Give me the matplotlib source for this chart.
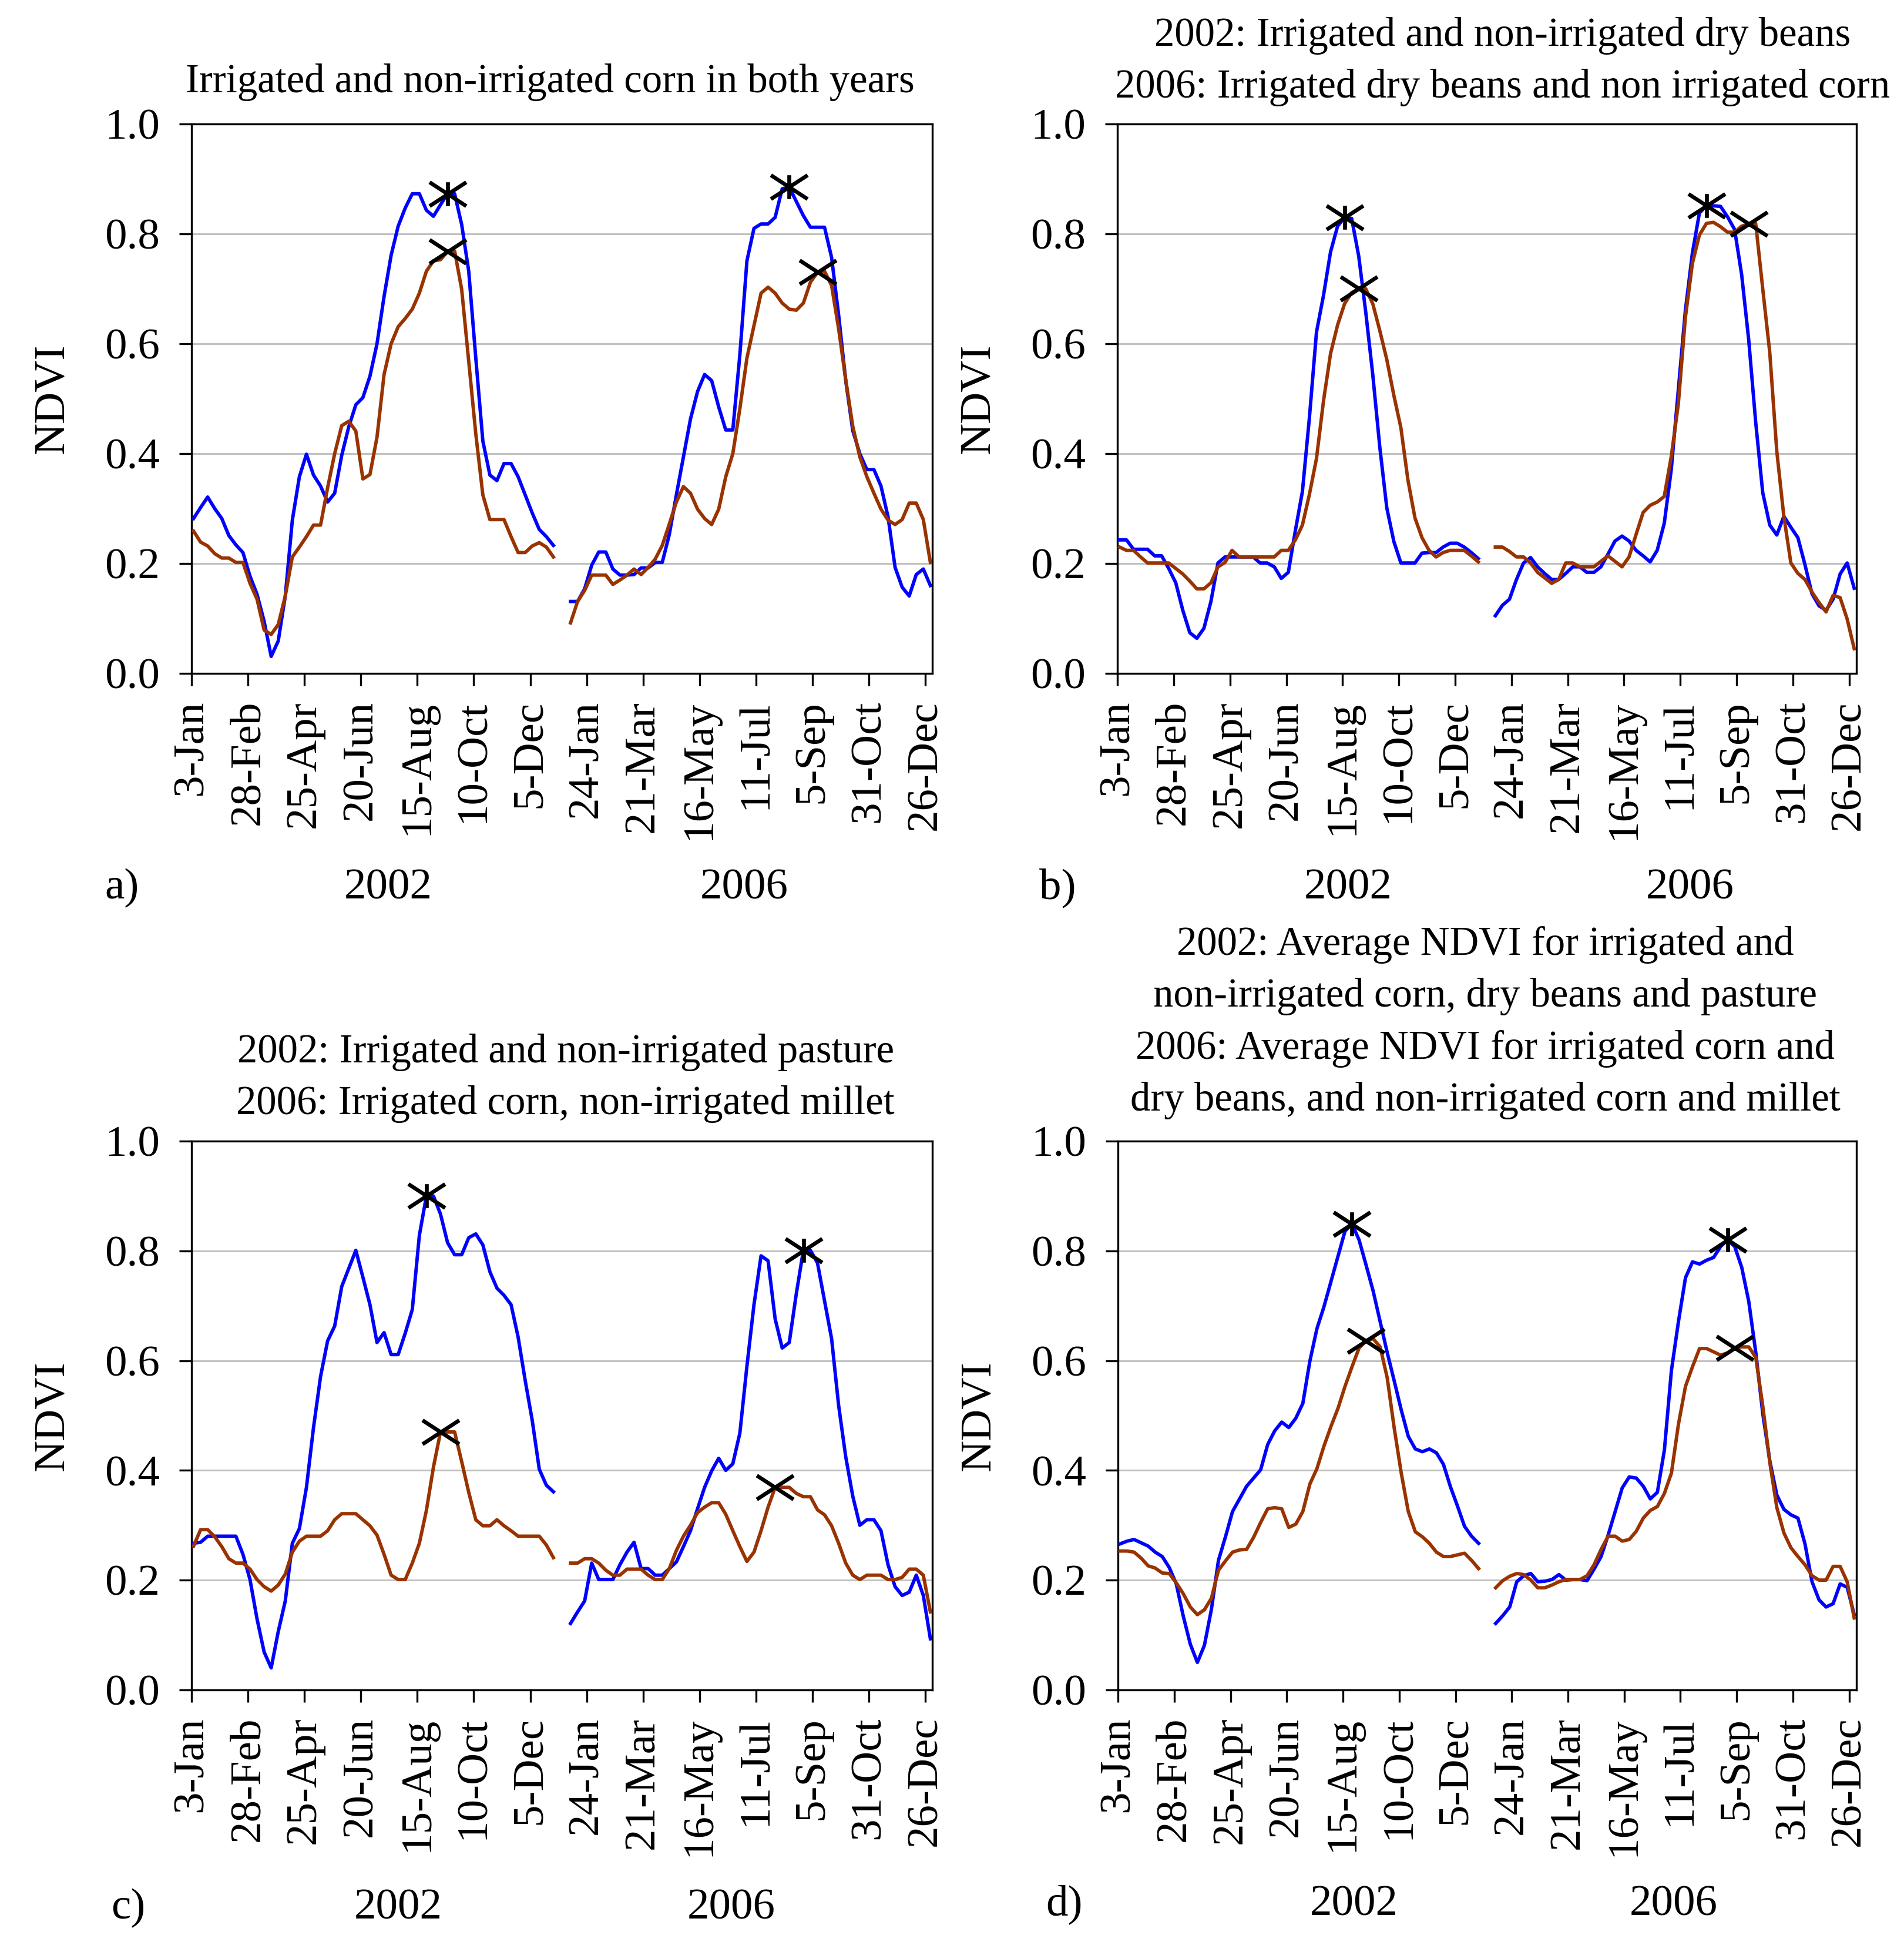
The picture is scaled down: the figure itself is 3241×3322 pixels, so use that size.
import numpy as np
import matplotlib
matplotlib.use("Agg")
import matplotlib.pyplot as plt
from matplotlib.path import Path

plt.rcParams['font.family'] = ['Liberation Serif', 'DejaVu Serif']

BLUE = '#0000ff'
BROWN = '#993300'

tick_labels = ["3-Jan", "28-Feb", "25-Apr", "20-Jun", "15-Aug", "10-Oct", "5-Dec",
               "24-Jan", "21-Mar", "16-May", "11-Jul", "5-Sep", "31-Oct", "26-Dec"]

# weekly composites, 2006 spliced onto the same axis after 2002 (days from 3-Jan-2002)
days_2002 = 2 + 7 * np.arange(52)
days_2006 = 376 + 7 * np.arange(52)

# ---- panel a: irrigated / non-irrigated corn in both years
a_irr_2002 = [0.282, 0.302, 0.321, 0.300, 0.282, 0.251, 0.234, 0.220, 0.177, 0.144, 0.095, 0.031, 0.059,
              0.141, 0.279, 0.358, 0.399, 0.361, 0.341, 0.312, 0.328, 0.397, 0.449, 0.489, 0.502, 0.541,
              0.600, 0.686, 0.761, 0.814, 0.847, 0.873, 0.873, 0.843, 0.832, 0.853, 0.873, 0.873, 0.817,
              0.732, 0.574, 0.423, 0.361, 0.351, 0.382, 0.382, 0.358, 0.325, 0.292, 0.262, 0.249, 0.233]
a_non_2002 = [0.259, 0.239, 0.232, 0.218, 0.210, 0.210, 0.202, 0.202, 0.164, 0.135, 0.079, 0.071, 0.089,
              0.141, 0.212, 0.230, 0.249, 0.270, 0.270, 0.338, 0.400, 0.451, 0.459, 0.441, 0.354, 0.362,
              0.430, 0.544, 0.600, 0.631, 0.646, 0.663, 0.692, 0.732, 0.751, 0.753, 0.768, 0.769, 0.699,
              0.568, 0.436, 0.325, 0.280, 0.280, 0.280, 0.249, 0.220, 0.220, 0.232, 0.238, 0.230, 0.212]
a_irr_2006 = [0.131, 0.131, 0.154, 0.197, 0.221, 0.221, 0.190, 0.179, 0.179, 0.180, 0.192, 0.192, 0.202,
              0.202, 0.253, 0.325, 0.394, 0.463, 0.513, 0.544, 0.533, 0.485, 0.443, 0.443, 0.580, 0.751,
              0.810, 0.818, 0.818, 0.830, 0.882, 0.885, 0.859, 0.833, 0.812, 0.812, 0.812, 0.757, 0.652,
              0.533, 0.442, 0.400, 0.371, 0.371, 0.341, 0.285, 0.193, 0.157, 0.141, 0.180, 0.190, 0.160]
a_non_2006 = [0.092, 0.131, 0.151, 0.179, 0.179, 0.179, 0.162, 0.170, 0.179, 0.190, 0.180, 0.193, 0.208,
              0.233, 0.272, 0.312, 0.340, 0.328, 0.299, 0.282, 0.271, 0.299, 0.358, 0.400, 0.482, 0.574,
              0.633, 0.692, 0.703, 0.692, 0.674, 0.663, 0.661, 0.674, 0.712, 0.730, 0.732, 0.706, 0.627,
              0.535, 0.450, 0.394, 0.358, 0.328, 0.299, 0.279, 0.271, 0.280, 0.310, 0.310, 0.280, 0.202]

# ---- panel b: dry beans (2002), dry beans / non-irrigated corn (2006)
b_irr_2002 = [0.243, 0.243, 0.226, 0.226, 0.226, 0.214, 0.214, 0.191, 0.165, 0.115, 0.074, 0.064, 0.082,
              0.131, 0.201, 0.212, 0.212, 0.212, 0.212, 0.212, 0.201, 0.201, 0.194, 0.173, 0.184, 0.260,
              0.331, 0.466, 0.621, 0.688, 0.767, 0.814, 0.830, 0.828, 0.760, 0.658, 0.544, 0.412, 0.301,
              0.240, 0.201, 0.201, 0.201, 0.219, 0.220, 0.220, 0.230, 0.237, 0.237, 0.230, 0.220, 0.209]
b_non_2002 = [0.230, 0.224, 0.224, 0.212, 0.201, 0.201, 0.201, 0.201, 0.191, 0.181, 0.168, 0.154, 0.154,
              0.165, 0.194, 0.202, 0.224, 0.212, 0.212, 0.212, 0.212, 0.212, 0.212, 0.224, 0.224, 0.243,
              0.270, 0.326, 0.391, 0.496, 0.582, 0.634, 0.673, 0.693, 0.700, 0.700, 0.673, 0.624, 0.571,
              0.506, 0.447, 0.352, 0.283, 0.247, 0.224, 0.212, 0.220, 0.224, 0.224, 0.224, 0.214, 0.203]
b_irr_2006 = [0.105, 0.124, 0.135, 0.171, 0.201, 0.211, 0.194, 0.182, 0.171, 0.171, 0.182, 0.194, 0.194,
              0.184, 0.184, 0.194, 0.217, 0.241, 0.250, 0.241, 0.224, 0.214, 0.203, 0.224, 0.273, 0.371,
              0.516, 0.660, 0.765, 0.838, 0.851, 0.851, 0.850, 0.831, 0.808, 0.726, 0.608, 0.457, 0.329,
              0.270, 0.252, 0.286, 0.266, 0.247, 0.198, 0.145, 0.123, 0.115, 0.135, 0.181, 0.201, 0.155]
b_non_2006 = [0.230, 0.230, 0.222, 0.212, 0.212, 0.201, 0.184, 0.174, 0.164, 0.171, 0.201, 0.201, 0.194,
              0.194, 0.194, 0.204, 0.214, 0.204, 0.194, 0.212, 0.253, 0.293, 0.306, 0.312, 0.322, 0.395,
              0.490, 0.647, 0.746, 0.798, 0.819, 0.821, 0.813, 0.803, 0.803, 0.814, 0.818, 0.819, 0.700,
              0.584, 0.404, 0.286, 0.201, 0.182, 0.171, 0.148, 0.129, 0.112, 0.142, 0.138, 0.099, 0.045]

# ---- panel c: pasture (2002), irrigated corn / non-irrigated millet (2006)
c_irr_2002 = [0.267, 0.269, 0.280, 0.280, 0.280, 0.280, 0.280, 0.247, 0.201, 0.129, 0.069, 0.040, 0.106,
              0.162, 0.267, 0.294, 0.369, 0.478, 0.571, 0.636, 0.663, 0.735, 0.768, 0.801, 0.752, 0.702,
              0.633, 0.651, 0.611, 0.611, 0.650, 0.693, 0.828, 0.900, 0.900, 0.867, 0.815, 0.793, 0.793,
              0.824, 0.831, 0.811, 0.762, 0.732, 0.719, 0.702, 0.643, 0.564, 0.491, 0.402, 0.373, 0.361]
c_non_2002 = [0.262, 0.292, 0.292, 0.279, 0.261, 0.239, 0.231, 0.231, 0.220, 0.201, 0.188, 0.180, 0.191,
              0.211, 0.251, 0.271, 0.280, 0.280, 0.280, 0.290, 0.310, 0.321, 0.321, 0.321, 0.310, 0.299,
              0.282, 0.247, 0.209, 0.201, 0.201, 0.231, 0.267, 0.327, 0.406, 0.470, 0.470, 0.470, 0.416,
              0.360, 0.310, 0.299, 0.299, 0.310, 0.299, 0.290, 0.280, 0.280, 0.280, 0.280, 0.264, 0.241]
c_irr_2006 = [0.121, 0.142, 0.162, 0.231, 0.201, 0.201, 0.201, 0.228, 0.251, 0.269, 0.221, 0.221, 0.209,
              0.209, 0.221, 0.233, 0.261, 0.290, 0.330, 0.369, 0.399, 0.422, 0.400, 0.412, 0.468, 0.590,
              0.702, 0.791, 0.782, 0.676, 0.623, 0.633, 0.722, 0.801, 0.801, 0.778, 0.709, 0.640, 0.518,
              0.425, 0.353, 0.300, 0.310, 0.310, 0.290, 0.228, 0.188, 0.172, 0.178, 0.209, 0.172, 0.093]
c_non_2006 = [0.231, 0.231, 0.239, 0.239, 0.231, 0.218, 0.209, 0.209, 0.220, 0.220, 0.220, 0.209, 0.201,
              0.201, 0.221, 0.254, 0.280, 0.300, 0.323, 0.333, 0.341, 0.341, 0.320, 0.290, 0.261, 0.234,
              0.251, 0.290, 0.333, 0.369, 0.369, 0.369, 0.358, 0.352, 0.352, 0.328, 0.319, 0.299, 0.267,
              0.231, 0.209, 0.201, 0.209, 0.209, 0.209, 0.201, 0.201, 0.205, 0.220, 0.220, 0.209, 0.142]

# ---- panel d: averages
d_irr_2002 = [0.266, 0.271, 0.274, 0.268, 0.262, 0.251, 0.243, 0.223, 0.193, 0.134, 0.083, 0.050, 0.081,
              0.147, 0.236, 0.279, 0.325, 0.348, 0.371, 0.386, 0.401, 0.447, 0.472, 0.488, 0.478, 0.495,
              0.522, 0.599, 0.658, 0.698, 0.744, 0.790, 0.836, 0.849, 0.820, 0.774, 0.727, 0.671, 0.615,
              0.563, 0.510, 0.462, 0.439, 0.434, 0.439, 0.432, 0.411, 0.370, 0.335, 0.298, 0.280, 0.267]
d_non_2002 = [0.253, 0.253, 0.251, 0.240, 0.226, 0.222, 0.213, 0.212, 0.195, 0.175, 0.151, 0.137, 0.146,
              0.167, 0.218, 0.235, 0.251, 0.255, 0.256, 0.278, 0.305, 0.330, 0.332, 0.330, 0.296, 0.302,
              0.325, 0.375, 0.403, 0.444, 0.480, 0.513, 0.553, 0.589, 0.623, 0.636, 0.640, 0.625, 0.569,
              0.477, 0.395, 0.325, 0.288, 0.279, 0.267, 0.251, 0.243, 0.243, 0.246, 0.249, 0.236, 0.221]
d_irr_2006 = [0.121, 0.135, 0.151, 0.197, 0.208, 0.212, 0.197, 0.198, 0.201, 0.210, 0.200, 0.201, 0.201,
              0.199, 0.220, 0.243, 0.282, 0.325, 0.368, 0.388, 0.386, 0.371, 0.348, 0.360, 0.437, 0.582,
              0.671, 0.751, 0.780, 0.776, 0.783, 0.788, 0.808, 0.820, 0.808, 0.770, 0.708, 0.615, 0.503,
              0.417, 0.355, 0.329, 0.319, 0.313, 0.266, 0.197, 0.164, 0.151, 0.157, 0.193, 0.187, 0.137]
d_non_2006 = [0.186, 0.199, 0.207, 0.212, 0.210, 0.200, 0.186, 0.186, 0.191, 0.197, 0.201, 0.201, 0.201,
              0.208, 0.228, 0.256, 0.280, 0.280, 0.271, 0.274, 0.289, 0.313, 0.327, 0.334, 0.358, 0.395,
              0.484, 0.553, 0.589, 0.622, 0.622, 0.616, 0.610, 0.614, 0.623, 0.625, 0.625, 0.606, 0.517,
              0.414, 0.332, 0.286, 0.259, 0.243, 0.228, 0.208, 0.200, 0.200, 0.225, 0.225, 0.197, 0.131]

# index of the marked peak in each series: (irr 2002, non 2002, irr 2006, non 2006)
peaks = {
    "a": (36, 36, 31, 35),
    "b": (32, 34, 30, 36),
    "c": (33, 35, 33, 29),
    "d": (33, 35, 33, 34),
}

titles = {
    "a": "Irrigated and non-irrigated corn in both years",
    "b": "2002: Irrigated and non-irrigated dry beans\n2006: Irrigated dry beans and non irrigated corn",
    "c": "2002: Irrigated and non-irrigated pasture\n2006: Irrigated corn, non-irrigated millet",
    "d": "2002: Average NDVI for irrigated and\nnon-irrigated corn, dry beans and pasture\n"
         "2006: Average NDVI for irrigated corn and\ndry beans, and non-irrigated corn and millet",
}

series = {
    "a": (a_irr_2002, a_non_2002, a_irr_2006, a_non_2006),
    "b": (b_irr_2002, b_non_2002, b_irr_2006, b_non_2006),
    "c": (c_irr_2002, c_non_2002, c_irr_2006, c_non_2006),
    "d": (d_irr_2002, d_non_2002, d_irr_2006, d_non_2006),
}

# marker shapes: a wide X, and the same X with a vertical bar
M, L = Path.MOVETO, Path.LINETO
cross = Path([(-1, -0.65), (1, 0.65), (-1, 0.65), (1, -0.65)], [M, L, M, L])
star = Path([(-1, -0.65), (1, 0.65), (-1, 0.65), (1, -0.65), (0, -0.65), (0, 0.65)],
            [M, L, M, L, M, L])

fig = plt.figure(figsize=(3241 / 300, 3322 / 300), dpi=300)

axes_pos = {
    "a": [0.1006, 0.655, 0.3891, 0.2815],
    "b": [0.5869, 0.655, 0.3880, 0.2815],
    "c": [0.1006, 0.1343, 0.3891, 0.2811],
    "d": [0.5872, 0.1343, 0.3877, 0.2811],
}
title_pos = {"a": (0.289, 0.958), "b": (0.789, 0.9684), "c": (0.297, 0.4476), "d": (0.780, 0.476)}
letter_pos = {"a": (0.064, 0.545), "b": (0.5556, 0.545), "c": (0.0673, 0.0224), "d": (0.5588, 0.0243)}
year_pos = {"a": ((0.204, 0.545), (0.391, 0.545)), "b": ((0.708, 0.545), (0.8876, 0.545)),
            "c": ((0.209, 0.0224), (0.384, 0.0224)), "d": ((0.711, 0.0243), (0.879, 0.0243))}

FS = 18
MS = 15
MEW = 1.6

for key in "abcd":
    ax = fig.add_axes(axes_pos[key])
    irr02, non02, irr06, non06 = series[key]
    p = peaks[key]

    ax.plot(days_2002, irr02, color=BLUE, lw=1.4, zorder=3)
    ax.plot(days_2002, non02, color=BROWN, lw=1.4, zorder=3)
    ax.plot(days_2006, irr06, color=BLUE, lw=1.4, zorder=3)
    ax.plot(days_2006, non06, color=BROWN, lw=1.4, zorder=3)

    ax.plot(days_2002[p[0]], irr02[p[0]], marker=star, ms=MS, mew=MEW, mec='black',
            ls='none', zorder=4)
    ax.plot(days_2002[p[1]], non02[p[1]], marker=cross, ms=MS, mew=MEW, mec='black',
            ls='none', zorder=4)
    ax.plot(days_2006[p[2]], irr06[p[2]], marker=star, ms=MS, mew=MEW, mec='black',
            ls='none', zorder=4)
    ax.plot(days_2006[p[3]], non06[p[3]], marker=cross, ms=MS, mew=MEW, mec='black',
            ls='none', zorder=4)

    ax.set_xlim(0, 735)
    ax.set_ylim(0, 1.0)
    ax.set_xticks(np.arange(14) * 56)
    ax.set_xticklabels(tick_labels, rotation=90, fontsize=FS)
    ax.set_yticks(np.arange(0, 1.01, 0.2))
    ax.set_yticklabels(["%.1f" % v for v in np.arange(0, 1.01, 0.2)], fontsize=FS)
    ax.tick_params(direction='out', length=5, width=0.8)
    ax.tick_params(axis='x', pad=6)
    ax.tick_params(axis='y', pad=8)
    for s in ax.spines.values():
        s.set_linewidth(0.8)
    for g in (0.2, 0.4, 0.6, 0.8):
        ax.axhline(g, color='#c0c0c0', lw=0.7, zorder=1)

    box = axes_pos[key]
    fig.text(box[0] - 0.073, box[1] + box[3] / 2, "NDVI", rotation=90,
             ha='center', va='center', fontsize=FS)
    fig.text(*title_pos[key], titles[key], ha='center', va='center', fontsize=16.5,
             linespacing=1.5)
    fig.text(*letter_pos[key], key + ")", ha='center', va='center', fontsize=FS)
    fig.text(*year_pos[key][0], "2002", ha='center', va='center', fontsize=FS)
    fig.text(*year_pos[key][1], "2006", ha='center', va='center', fontsize=FS)

fig.savefig("out.png", dpi=300)
